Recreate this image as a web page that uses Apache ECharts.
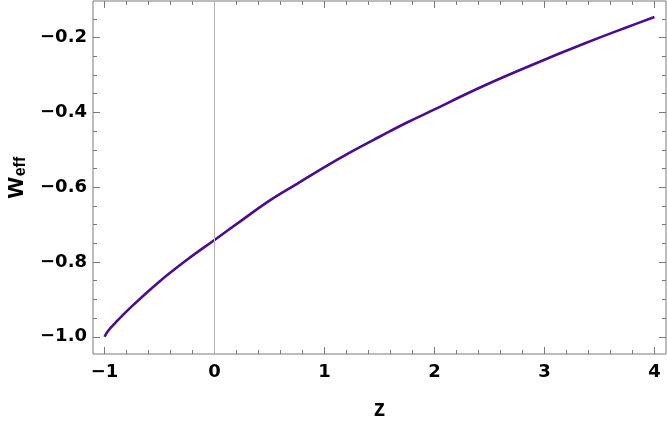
<!DOCTYPE html>
<html>
<head>
<meta charset="utf-8">
<script src="https://cdn.jsdelivr.net/npm/echarts@6/dist/echarts.min.js"></script>
<style>
    html, body { margin: 0; padding: 0; background: #fff; }
    #chart { width: 667px; height: 427px; }
</style>
</head>
<body>
<div id="chart"></div>
<script>
// values
const zValues = [-1, -0.97, -0.9, -0.75, -0.5, -0.25, 0, 0.25, 0.5, 0.75, 1, 1.25, 1.5, 1.75, 2, 2.25, 2.5, 2.75, 3, 3.25, 3.5, 3.75, 4];
const wEff = [-1.000, -0.985, -0.962, -0.918, -0.852, -0.794, -0.741, -0.688, -0.636, -0.591, -0.546, -0.504, -0.465, -0.427, -0.392, -0.356, -0.322, -0.290, -0.259, -0.229, -0.200, -0.172, -0.145];

const xMajorTicks = [-1, 0, 1, 2, 3, 4];
const xMinorTicks = [-0.8, -0.6, -0.4, -0.2, 0.2, 0.4, 0.6, 0.8, 1.2, 1.4, 1.6, 1.8, 2.2, 2.4, 2.6, 2.8, 3.2, 3.4, 3.6, 3.8];
const yMajorTicks = [-1.0, -0.8, -0.6, -0.4, -0.2];
const yMinorTicks = [-0.95, -0.9, -0.85, -0.75, -0.7, -0.65, -0.55, -0.5, -0.45, -0.35, -0.3, -0.25, -0.15];

const X_MIN = -1.105, X_MAX = 4.105;
const Y_MIN = -1.046, Y_MAX = -0.102;

const frameColor = '#7a7a7a';
const labelFont = 'DejaVu Sans, sans-serif';
const titleFont = 'Liberation Sans, Arial, sans-serif';
const fmt = (v) => (v < 0 ? '\u2212' : '') + Math.abs(v);
const fmtY = (v) => (v < 0 ? '\u2212' : '') + Math.abs(v).toFixed(1);

// one axis per side and tick size; the frame itself is the grid border
const tickAxis = (position, ticks, len, extra = {}) => ({
    type: 'value',
    position,
    axisLine: { show: false, onZero: false },
    axisTick: { show: true, inside: true, length: len, customValues: ticks, lineStyle: { color: frameColor, width: 1 } },
    axisLabel: { show: false },
    splitLine: { show: false },
    ...extra,
});

const xAxisBase = { min: X_MIN, max: X_MAX };
const yAxisBase = { min: Y_MIN, max: Y_MAX };

const chart = echarts.init(document.getElementById('chart'), null, { renderer: 'canvas' });

chart.setOption({
    animation: false,
    backgroundColor: '#fff',
    grid: {
        left: 93, top: 1, width: 573, height: 353,
        outerBoundsMode: 'none', containLabel: false,
        show: true, borderColor: frameColor, borderWidth: 1,
    },
    xAxis: [
        tickAxis('bottom', xMajorTicks, 7, {
            ...xAxisBase,
            axisLabel: {
                show: true, customValues: xMajorTicks, margin: 9, formatter: fmt,
                color: '#000', fontSize: 18, fontWeight: 'bold', fontFamily: labelFont,
            },
            name: 'z',
            nameLocation: 'middle',
            nameGap: 44,
            nameTextStyle: { color: '#000', fontSize: 23, fontWeight: 'bold', fontFamily: titleFont },
        }),
        tickAxis('bottom', xMinorTicks, 4, xAxisBase),
        tickAxis('top', xMajorTicks, 7, xAxisBase),
        tickAxis('top', xMinorTicks, 4, xAxisBase),
    ],
    yAxis: [
        tickAxis('left', yMajorTicks, 7, {
            ...yAxisBase,
            axisLabel: {
                show: true, customValues: yMajorTicks, margin: 6, formatter: fmtY,
                color: '#000', fontSize: 18, fontWeight: 'bold', fontFamily: labelFont,
            },
            name: '{w|w}{s|eff}',
            nameLocation: 'middle',
            nameRotate: 90,
            nameGap: 64,
            nameTextStyle: {
                rich: {
                    w: { color: '#000', fontSize: 27, fontWeight: 'bold', fontFamily: titleFont, verticalAlign: 'bottom' },
                    s: { color: '#000', fontSize: 16, fontWeight: 'bold', fontFamily: titleFont, verticalAlign: 'bottom', padding: [0, 0, 0, 1] },
                },
            },
        }),
        tickAxis('left', yMinorTicks, 4, yAxisBase),
        tickAxis('right', yMajorTicks, 7, yAxisBase),
        tickAxis('right', yMinorTicks, 4, yAxisBase),
    ],
    series: [
        {
            type: 'line',
            xAxisIndex: 0,
            yAxisIndex: 0,
            data: zValues.map((z, i) => [z, wEff[i]]),
            smooth: 0.4,
            showSymbol: false,
            lineStyle: { color: '#4b0d8f', width: 2.6 },
            markLine: {
                silent: true,
                symbol: 'none',
                label: { show: false },
                lineStyle: { color: '#b4b4b4', width: 1, type: 'solid' },
                data: [{ xAxis: 0 }],
            },
            z: 3,
        },
    ],
});
</script>
</body>
</html>
